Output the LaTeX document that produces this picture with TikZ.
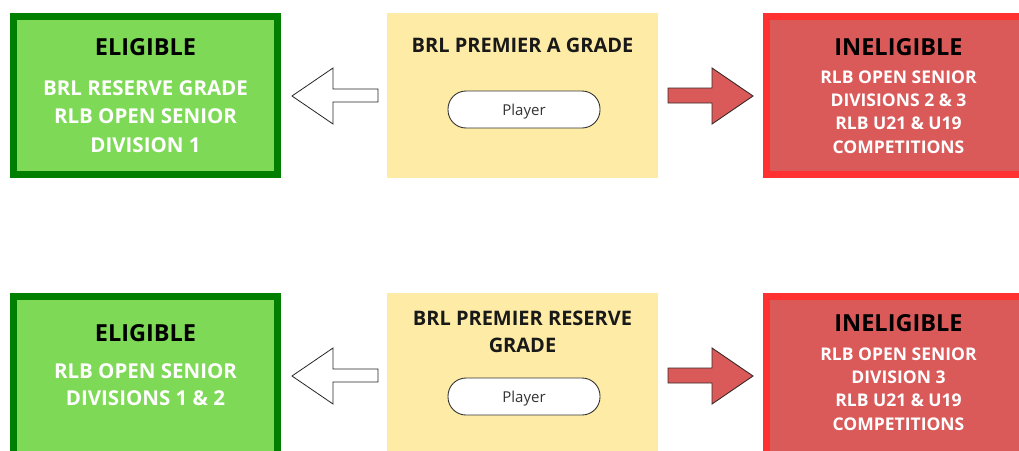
\documentclass[tikz,border=0pt]{standalone}
\usepackage{fontspec}
\setmainfont{Open Sans}
\definecolor{gfill}{HTML}{7ED957}
\definecolor{gline}{HTML}{007F00}
\definecolor{rfill}{HTML}{DA5A5A}
\definecolor{rline}{HTML}{FF3131}
\definecolor{yfill}{HTML}{FEECA6}
\definecolor{arrline}{HTML}{3A2A2A}
\definecolor{pilltxt}{HTML}{333333}
\tikzset{
  gbox/.style={rectangle, inner sep=0pt, fill=gfill, draw=gline, line width=6.6pt, minimum width=264.4pt, minimum height=158.4pt},
  rbox/.style={rectangle, inner sep=0pt, fill=rfill, draw=rline, line width=7pt, minimum width=264pt, minimum height=158pt},
  ybox/.style={rectangle, inner sep=0pt, fill=yfill, minimum width=271pt, minimum height=165pt},
  pill/.style={rectangle, rounded corners=18pt, fill=white, draw=pilltxt, line width=0.9pt, minimum width=152pt, minimum height=37pt, inner sep=0pt, text height=11pt, text depth=0pt, font=\fontsize{15}{17}\selectfont, text=pilltxt},
  ttl/.style={font=\bfseries\fontsize{23.5}{27}\selectfont, text=black, inner sep=0pt, align=center},
  ytl/.style={font=\bfseries\fontsize{20}{27}\selectfont, text=black!90, inner sep=0pt, align=center},
  gtx/.style={font=\bfseries\fontsize{20.5}{28.5}\selectfont, text=white, inner sep=0pt, align=center},
  gtxb/.style={font=\bfseries\fontsize{20.5}{27}\selectfont, text=white, inner sep=0pt, align=center},
  rtx/.style={font=\bfseries\fontsize{17.5}{23.4}\selectfont, text=white, inner sep=0pt, align=center},
  warr/.style={fill=white, draw=black!85, line width=0.8pt, line join=miter},
  rarr/.style={fill=rfill, draw=arrline, line width=0.9pt, line join=miter},
}
\begin{document}
\begin{tikzpicture}[x=1pt,y=-1pt]
\useasboundingbox (0,0) rectangle (1019,450);
\clip (0,0) rectangle (1019,450);
\fill[white] (0,0) rectangle (1019,450);

% ---------- top row ----------
\node[gbox] (elig1) at (145.5,95.5) {};
\node[ybox] (prem1) at (522.5,95.5) {};
\node[rbox] (inel1) at (898.5,95.5) {};

\node[ttl] (elig1t) at (145.5,47) {ELIGIBLE};
\node[gtx] (elig1x) at (145.5,116.5) {BRL RESERVE GRADE\\RLB OPEN SENIOR\\DIVISION 1};

\node[ytl] (prem1t) at (522.5,45) {BRL PREMIER A GRADE};
\node[pill] (player1) at (524,109.5) {Player};

\node[ttl] (inel1t) at (898.5,47) {INELIGIBLE};
\node[rtx] (inel1x) at (898.5,112) {RLB OPEN SENIOR\\DIVISIONS 2 \& 3\\RLB U21 \& U19\\COMPETITIONS};

\coordinate (wa1) at (292,96);
\draw[warr] (wa1) -- ++(41,-28) -- ++(0,21) -- ++(45,0) -- ++(0,13) -- ++(-45,0) -- ++(0,22) -- cycle;
\coordinate (ra1) at (753,96);
\draw[rarr] (ra1) -- ++(-41,-28) -- ++(0,20) -- ++(-44,0) -- ++(0,15) -- ++(44,0) -- ++(0,21) -- cycle;

% ---------- bottom row ----------
\node[gbox] (elig2) at (145.5,375.5) {};
\node[ybox] (prem2) at (522.5,375.5) {};
\node[rbox] (inel2) at (898.5,375.5) {};

\node[ttl] (elig2t) at (145.5,333) {ELIGIBLE};
\node[gtxb] (elig2x) at (145.5,384.5) {RLB OPEN SENIOR\\DIVISIONS 1 \& 2};

\node[ytl] (prem2t) at (522.5,331.5) {BRL PREMIER RESERVE\\GRADE};
\node[pill] (player2) at (524,396.5) {Player};

\node[ttl] (inel2t) at (898.5,323) {INELIGIBLE};
\node[rtx] (inel2x) at (898.5,389) {RLB OPEN SENIOR\\DIVISION 3\\RLB U21 \& U19\\COMPETITIONS};

\coordinate (wa2) at (292,376);
\draw[warr] (wa2) -- ++(41,-28) -- ++(0,21) -- ++(45,0) -- ++(0,13) -- ++(-45,0) -- ++(0,22) -- cycle;
\coordinate (ra2) at (753,376);
\draw[rarr] (ra2) -- ++(-41,-28) -- ++(0,20) -- ++(-44,0) -- ++(0,15) -- ++(44,0) -- ++(0,21) -- cycle;
\end{tikzpicture}
\end{document}
